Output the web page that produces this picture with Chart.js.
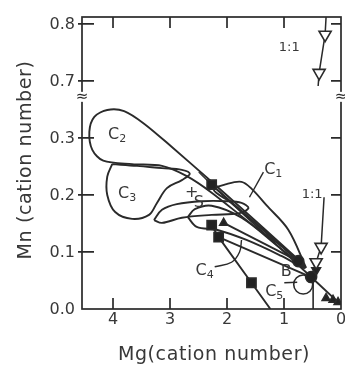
<!DOCTYPE html>
<html>
<head>
<meta charset="utf-8">
<script src="https://cdn.jsdelivr.net/npm/chart.js@4.4.1/dist/chart.umd.min.js"></script>
<style>
  html, body { margin: 0; padding: 0; background: #fff; }
</style>
</head>
<body>
<canvas id="chart" width="345" height="367"></canvas>
<script>
// Mn axis is broken between 0.3 and 0.7; values above the break are drawn 0.3 lower
const breakShift = 0.3;
const breakAt = 0.372;
const yTicks = [0.0, 0.1, 0.2, 0.3, 0.7, 0.8];
const xTicks = [4, 3, 2, 1, 0];

// compositional fields as closed outlines, [Mg, Mn]
const fieldC1 = [[0.611,0.072],[0.925,0.139],[1.309,0.182],[1.571,0.211],[1.745,0.223],[2.007,0.219],[2.234,0.209],[1.920,0.186],[1.396,0.142],[0.873,0.096],[0.611,0.072]];
const fieldC2 = [[0.698,0.082],[1.483,0.153],[2.269,0.223],[2.967,0.284],[3.455,0.325],[3.805,0.347],[4.101,0.349],[4.328,0.337],[4.415,0.311],[4.363,0.279],[4.171,0.260],[3.665,0.254],[3.141,0.251],[2.705,0.233],[2.269,0.204],[1.483,0.142],[0.960,0.104],[0.698,0.082]];
const fieldC3 = [[4.014,0.254],[3.578,0.251],[3.141,0.247],[2.792,0.244],[2.653,0.237],[2.792,0.226],[3.054,0.212],[3.229,0.186],[3.368,0.165],[3.665,0.158],[3.962,0.170],[4.101,0.200],[4.101,0.232],[4.014,0.254]];
const fieldC4 = [[2.688,0.161],[2.565,0.175],[2.269,0.181],[1.745,0.160],[1.134,0.112],[0.646,0.072],[1.047,0.093],[1.658,0.121],[2.181,0.139],[2.531,0.144],[2.688,0.161]];
const fieldS = [[3.281,0.156],[3.141,0.174],[2.880,0.184],[2.443,0.189],[2.007,0.189],[1.745,0.186],[1.623,0.177],[1.780,0.168],[2.269,0.165],[2.792,0.160],[3.141,0.151],[3.281,0.156]];

// coexisting pairs joined by tie lines
const tie1 = [[2.269,0.218],[0.750,0.084]];
const tie2 = [[2.269,0.218],[0.524,0.056]];
const tie3 = [[2.059,0.151],[0.750,0.084]];
const tie4 = [[2.147,0.126],[0.524,0.056]];
const trendSquares = [[2.269,0.147],[2.147,0.126],[1.571,0.046],[1.239,0.0]];
const leaderS = [[2.496,0.240],[2.269,0.218]];
const dropLine = [[0.489,0.058],[0.489,0.0]];
const lowerOneToOne = [[0.297,0.196],[0.349,0.109],[0.436,0.082],[0.524,0.056]];
const tailLine = [[0.524,0.056],[0.052,0.012]];
const upperOneToOne = [[0.262,0.812],[0.279,0.781],[0.384,0.714],[0.401,0.691]];

// markers
const squares = [[2.269,0.218],[2.269,0.147],[2.147,0.126],[1.571,0.046]];
const dots = [[0.750,0.084],[0.524,0.056]];
const openTriangles = [[0.279,0.781],[0.384,0.714],[0.349,0.109],[0.436,0.082]];
const darkTriangles = [[0.262,0.019],[0.140,0.016],[0.052,0.012],[2.059,0.151]];
const darkDown = [[0.436,0.068]];
const circleC5 = [[0.663,0.043]];

// labels and their leaders
const fieldLabels = [['C','1',1.187,0.244],['C','2',3.927,0.305],['C','3',3.752,0.202],['C','4',2.391,0.067],['C','5',1.169,0.030]];
const plainLabels = [['B',0.960,0.065],['S',2.496,0.186],['+',2.618,0.204],['1:1',0.908,0.758],['1:1',0.506,0.200]];
const leaderC1 = [[1.361,0.240],[1.606,0.196]];
const leaderC5 = [[0.995,0.046],[0.768,0.047]];
const leaderC4 = [[2.216,0.074],[1.920,0.082],[1.780,0.100],[1.745,0.121]];

const ink = '#2a2a2a';
const textInk = '#383838';
const font = '"DejaVu Sans", sans-serif';

const disp = v => v > 0.5 ? v - breakShift : v;
const toXY = pts => pts.map(([x, y]) => ({ x: x, y: disp(y) }));

function curve(pts, tension, width) {
  return { data: toXY(pts), showLine: true, tension: tension, pointRadius: 0,
    borderColor: ink, borderWidth: width || 1.9, fill: false, order: 2 };
}
function marks(pts, style, radius, bg, rotation) {
  return { data: toXY(pts), showLine: false, pointStyle: style, pointRadius: radius,
    pointRotation: rotation || 0, pointBackgroundColor: bg, pointBorderColor: ink,
    pointBorderWidth: 1.6, order: 1 };
}

const datasets = [
  marks(squares, 'rect', 6.5, '#222'),
  marks(dots, 'circle', 5.5, '#222'),
  marks(openTriangles, 'triangle', 7, '#fff', 180),
  marks(darkTriangles, 'triangle', 4.5, '#222'),
  marks(darkDown, 'triangle', 5, '#222', 180),
  marks(circleC5, 'circle', 9.5, 'rgba(0,0,0,0)'),
  curve(fieldC1, 0.35), curve(fieldC2, 0.3), curve(fieldC3, 0.35),
  curve(fieldC4, 0.35), curve(fieldS, 0.35),
  curve(tie1, 0), curve(tie2, 0), curve(tie3, 0), curve(tie4, 0),
  curve(trendSquares, 0), curve(leaderS, 0, 1.3), curve(dropLine, 0, 1.6),
  curve(lowerOneToOne, 0, 1.5), curve(tailLine, 0), curve(upperOneToOne, 0, 1.5),
  curve(leaderC1, 0, 1.4), curve(leaderC5, 0, 1.4), curve(leaderC4, 0.4, 1.4)
];

// frame with inward ticks, tick labels, axis titles, break marks, field labels
const decorations = {
  id: 'decorations',
  beforeDatasetsDraw(chart) {
    const { ctx, chartArea: a, scales: { x, y } } = chart;
    ctx.save();
    ctx.strokeStyle = ink;
    ctx.lineWidth = 1.7;
    ctx.strokeRect(a.left, a.top, a.right - a.left, a.bottom - a.top);
    ctx.beginPath();
    xTicks.forEach(v => {
      if (v === 0) return;
      const px = x.getPixelForValue(v);
      ctx.moveTo(px, a.bottom); ctx.lineTo(px, a.bottom - 11);
      ctx.moveTo(px, a.top); ctx.lineTo(px, a.top + 11);
    });
    yTicks.forEach(v => {
      if (v === 0) return;
      const py = y.getPixelForValue(disp(v));
      ctx.moveTo(a.left - 4, py); ctx.lineTo(a.left + 12, py);
      ctx.moveTo(a.right, py); ctx.lineTo(a.right - 10, py);
    });
    ctx.stroke();

    ctx.fillStyle = textInk;
    ctx.font = '16px ' + font;
    ctx.textBaseline = 'middle';
    ctx.textAlign = 'right';
    yTicks.forEach(v => ctx.fillText(v.toFixed(1), a.left - 7, y.getPixelForValue(disp(v)) + 1));
    ctx.textAlign = 'center';
    xTicks.forEach(v => ctx.fillText(String(v), x.getPixelForValue(v), a.bottom + 11));

    ctx.font = '19px ' + font;
    ctx.letterSpacing = '0.6px';
    ctx.fillText('Mg(cation number)', 214, 355);
    ctx.translate(26, 160);
    ctx.rotate(-Math.PI / 2);
    ctx.fillText('Mn (cation number)', 0, 0);
    ctx.restore();
  },
  afterDatasetsDraw(chart) {
    const { ctx, chartArea: a, scales: { x, y } } = chart;
    ctx.save();
    const pb = y.getPixelForValue(breakAt);
    ctx.fillStyle = '#fff';
    ctx.fillRect(a.left - 6, pb - 5, 12, 10);
    ctx.fillRect(a.right - 6, pb - 5, 12, 10);
    ctx.fillStyle = ink;
    ctx.font = '15px ' + font;
    ctx.textAlign = 'center';
    ctx.textBaseline = 'middle';
    ctx.fillText('\u2248', a.left, pb);
    ctx.fillText('\u2248', a.right, pb);

    ctx.fillStyle = textInk;
    fieldLabels.forEach(([c, sub, mg, mn]) => {
      const px = x.getPixelForValue(mg), py = y.getPixelForValue(disp(mn));
      ctx.font = '16px ' + font;
      ctx.textAlign = 'right';
      ctx.fillText(c, px + 2, py);
      ctx.font = '11px ' + font;
      ctx.textAlign = 'left';
      ctx.fillText(sub, px + 2, py + 4);
    });
    plainLabels.forEach(([t, mg, mn]) => {
      ctx.font = (t === '1:1' ? '13px ' : '16px ') + font;
      ctx.textAlign = 'center';
      ctx.fillText(t, x.getPixelForValue(mg), y.getPixelForValue(disp(mn)));
    });
    ctx.restore();
  }
};

new Chart(document.getElementById('chart'), {
  type: 'scatter',
  data: { datasets: datasets },
  options: {
    responsive: false,
    animation: false,
    layout: { autoPadding: false, padding: { left: 82, right: 4, top: 17, bottom: 58 } },
    plugins: { legend: { display: false }, tooltip: { enabled: false } },
    scales: {
      x: { display: false, reverse: true, min: 0, max: 4.544 },
      y: { display: false, min: 0, max: 0.512 }
    }
  },
  plugins: [decorations]
});
</script>
</body>
</html>
